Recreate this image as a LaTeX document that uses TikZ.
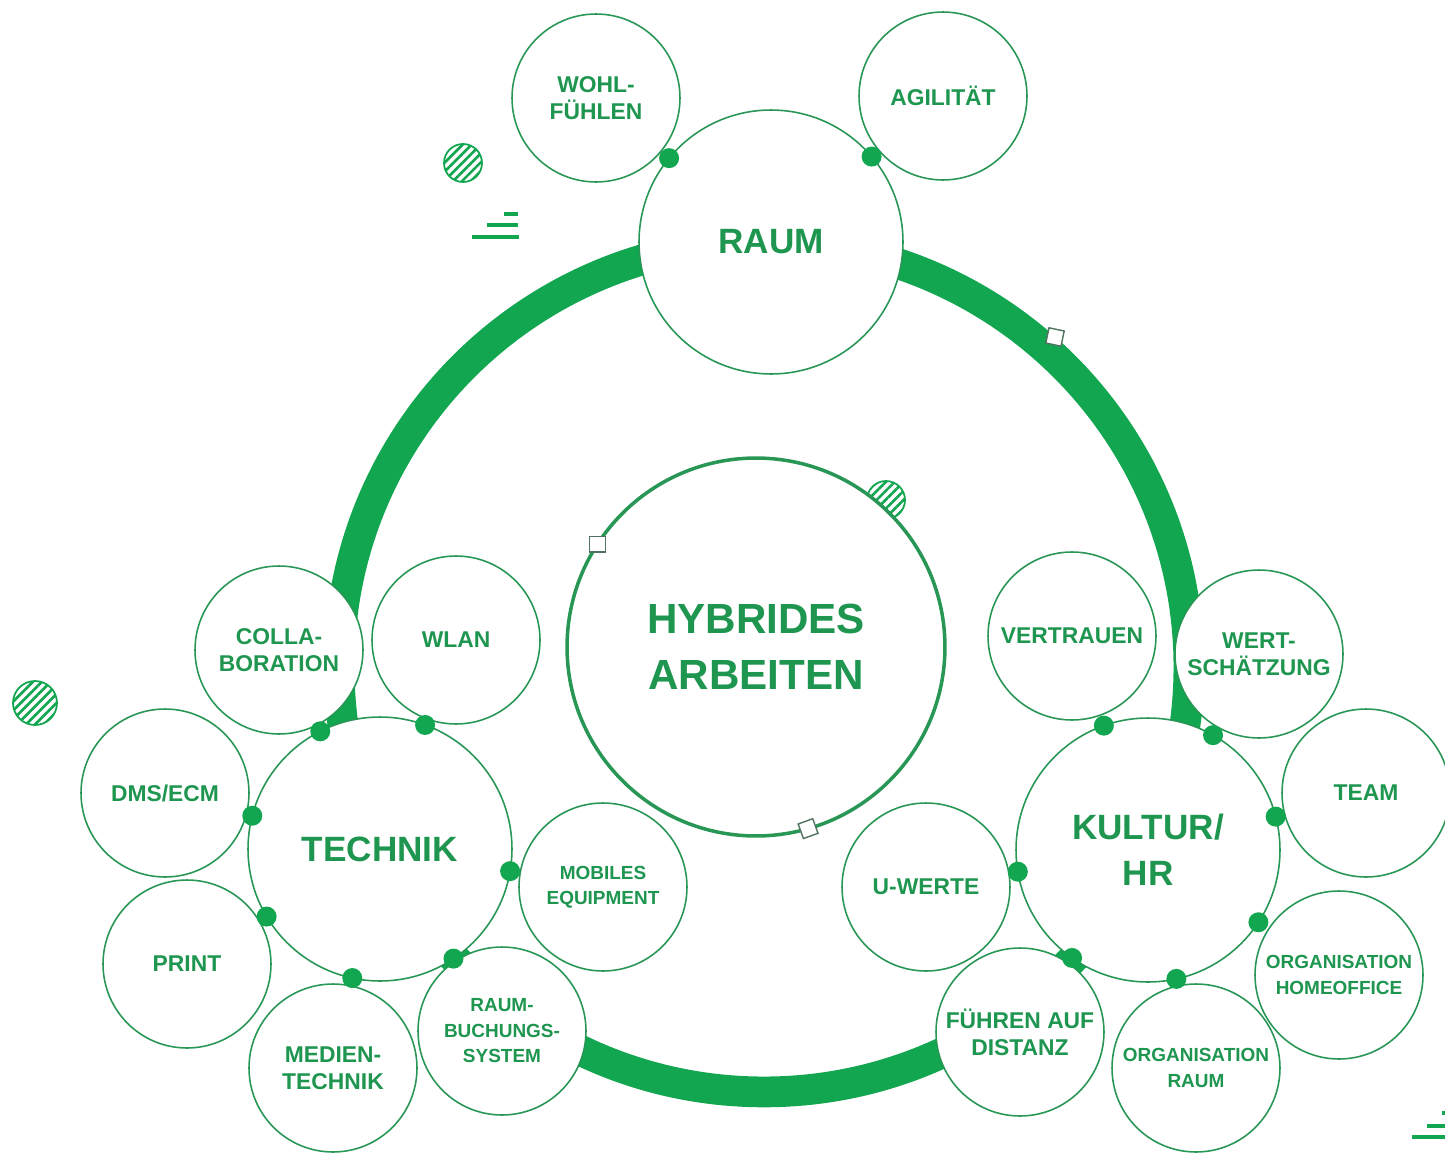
\documentclass[tikz,border=0pt]{standalone}
\usepackage{fontspec}
\setmainfont{Liberation Sans}
\usepackage{tikz}
\usetikzlibrary{calc,patterns.meta}
\definecolor{leafgreen}{RGB}{18,166,80}
\definecolor{linegreen}{RGB}{40,150,85}
\definecolor{textgreen}{RGB}{30,150,80}
\definecolor{markgray}{RGB}{80,115,95}
\newcommand{\corefont}{\fontsize{24pt}{32pt}\selectfont\bfseries}
\newcommand{\hubfont}{\fontsize{20pt}{26pt}\selectfont\bfseries}
\newcommand{\topicfont}{\fontsize{13pt}{15.4pt}\selectfont\bfseries}
\newcommand{\topicsmallfont}{\fontsize{10.8pt}{14.5pt}\selectfont\bfseries}
\newcommand{\hubr}{2.64cm}
\tikzset{
  core/.style     = {circle, draw=linegreen, line width=2pt, fill=white, text=textgreen,
                     minimum size=7.56cm, inner sep=0pt, outer sep=0pt, align=center, font=\corefont},
  hub/.style      = {circle, draw=linegreen, line width=0.9pt, fill=white, text=textgreen,
                     minimum size=5.28cm, inner sep=0pt, outer sep=0pt, align=center, font=\hubfont},
  topic/.style    = {circle, draw=linegreen, line width=0.9pt, fill=white, text=textgreen,
                     minimum size=3.36cm, inner sep=0pt, outer sep=0pt, align=center, font=\topicfont},
  topicsm/.style  = {topic, font=\topicsmallfont},
  joint/.style    = {fill=leafgreen},
  hatchdisc/.style= {draw=leafgreen, line width=1pt,
                     pattern={Lines[angle=45, distance=3.6pt, line width=1.5pt]}, pattern color=leafgreen},
  sqmark/.style   = {draw=markgray, fill=white, line width=0.8pt, minimum size=0.31cm, inner sep=0pt},
  dashmark/.style = {draw=leafgreen, line width=2.4pt},
}

\begin{document}
\begin{tikzpicture}[x=0.02cm, y=-0.02cm]
\useasboundingbox (0,0) rectangle (1445,1153);

% ring behind everything
\draw[leafgreen, line width=17.5pt] (764,667) circle [radius=8.5cm];
\node[sqmark, rotate=-12] (sqring) at (1055,337) {};

% decoration
\draw[hatchdisc] (463,163) circle [radius=0.38cm];
\draw[hatchdisc] (35,703) circle [radius=0.44cm];
\draw[hatchdisc] (886,500) circle [radius=0.38cm];
\draw[dashmark] (504,214) -- (518,214) (487,225) -- (518,225) (472,237) -- (519,237);
\draw[dashmark] (1442,1113) -- (1445,1113) (1427,1126) -- (1445,1126) (1412,1137) -- (1445,1137);

% centre
\node[core] (hyb) at (756,647) {HYBRIDES\\ARBEITEN};
\node[sqmark] (sqa) at (hyb.147) {};
\node[sqmark, rotate=20] (sqb) at (hyb.-74) {};

% hubs
\node[hub] (raum) at (771,242) {RAUM};
\node[hub] (technik) at (380,849) {TECHNIK};
\node[hub] (kultur) at (1148,850) {KULTUR/\\HR};

% raum
\node[topic] (wohl) at (596,98) {WOHL-\\FÜHLEN};
\node[topic] (agil) at (943,96) {AGILITÄT};

% technik
\node[topic] (colla) at (279,650) {COLLA-\\BORATION};
\node[topic] (wlan) at (456,640) {WLAN};
\node[topic] (dms) at (165,793) {DMS/ECM};
\node[topic] (print) at (187,964) {PRINT};
\node[topic] (medien) at (333,1068) {MEDIEN-\\TECHNIK};
\node[topicsm] (buchung) at (502,1031) {RAUM-\\BUCHUNGS-\\SYSTEM};
\node[topicsm] (mobil) at (603,887) {MOBILES\\EQUIPMENT};

% kultur
\node[topic] (vertr) at (1072,636) {VERTRAUEN};
\node[topic] (wert) at (1259,654) {WERT-\\SCHÄTZUNG};
\node[topic] (team) at (1366,793) {TEAM};
\node[topic] (uwert) at (926,887) {U-WERTE};
\node[topicsm] (orghome) at (1339,975) {ORGANISATION\\HOMEOFFICE};
\node[topicsm] (orgraum) at (1196,1068) {ORGANISATION\\RAUM};
\node[topic] (fuehren) at (1020,1032) {FÜHREN AUF\\DISTANZ};

% joints
\foreach \h/\t in {raum/wohl, raum/agil,
                   technik/colla, technik/wlan, technik/dms, technik/print,
                   technik/medien, technik/buchung, technik/mobil,
                   kultur/vertr, kultur/wert, kultur/team, kultur/uwert,
                   kultur/orghome, kultur/orgraum, kultur/fuehren}
  \fill[joint] ($(\h.center)!\hubr!(\t.center)$) circle [radius=0.2cm];
\end{tikzpicture}
\end{document}
